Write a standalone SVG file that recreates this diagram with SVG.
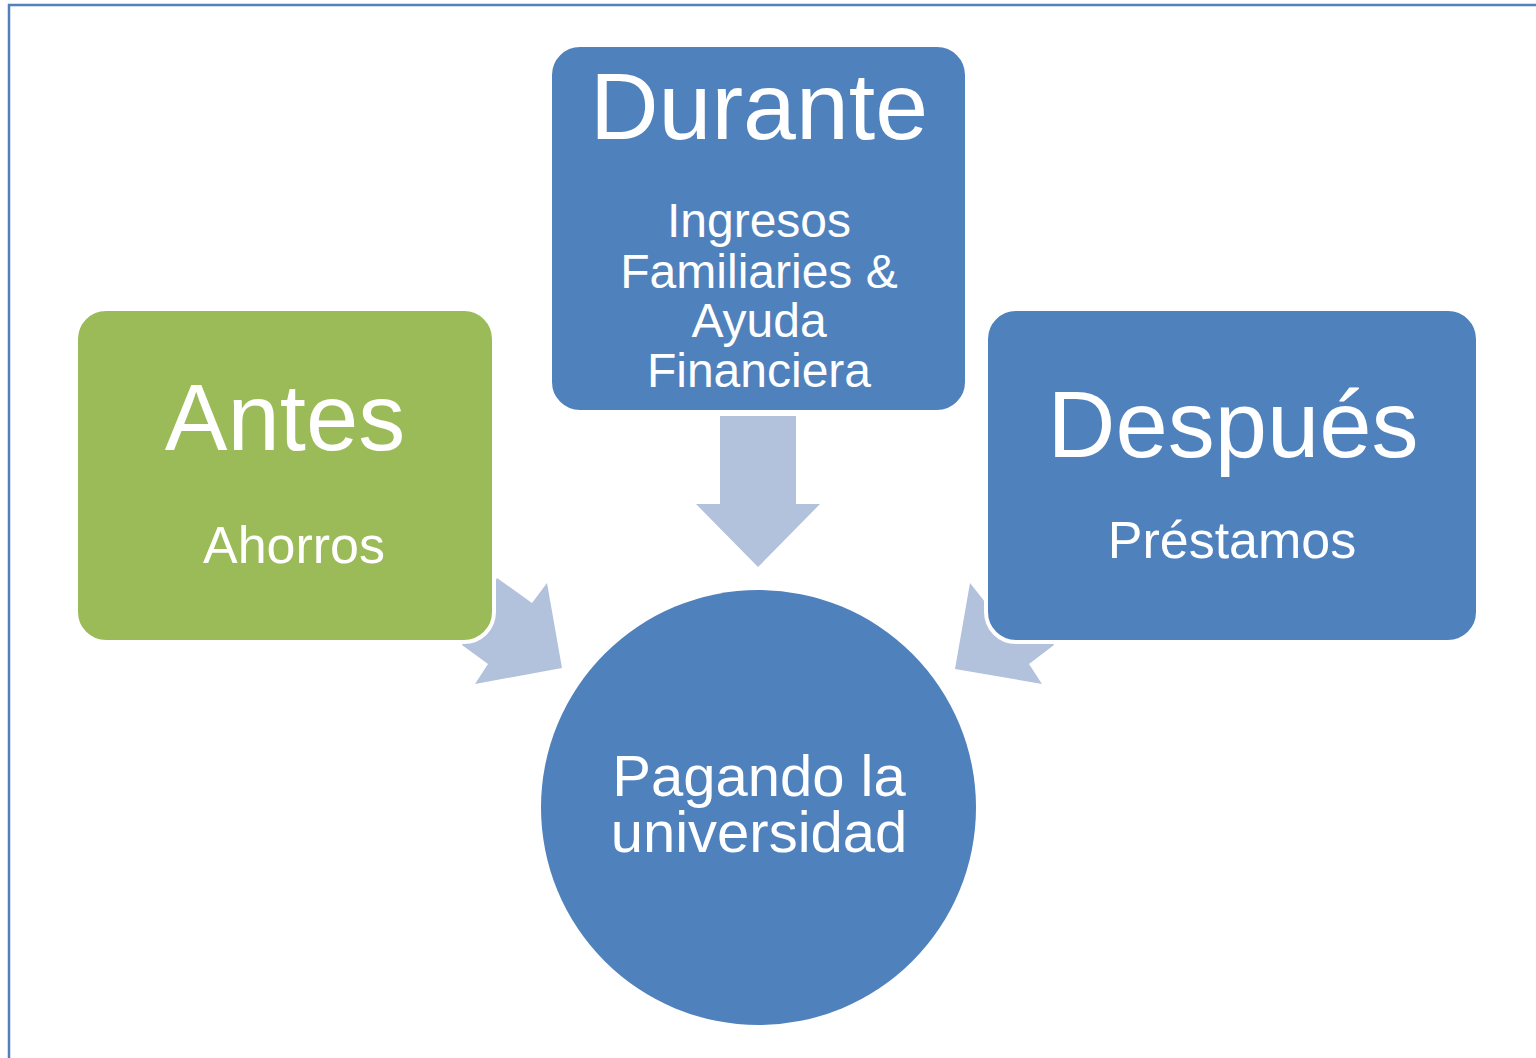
<svg xmlns="http://www.w3.org/2000/svg" width="1536" height="1058" viewBox="0 0 1536 1058">
<style>
.box{stroke:#ffffff;stroke-width:4}
.green{fill:#9BBB59}
.blue{fill:#4F81BD}
.arrow{fill:#B2C1DC}
text{font-family:"Liberation Sans",Arial,sans-serif;fill:#ffffff;text-anchor:middle}
.big{font-size:94px}
.mid{font-size:52px}
.sm{font-size:48px}
.c{font-size:58px}
</style>
<rect x="0" y="0" width="1536" height="1058" fill="#ffffff"/>
<path d="M9,1058 V5 H1536" fill="none" stroke="#4F81BD" stroke-width="2.5"/>
<g id="connectors">
<polygon class="arrow" points="720,416 796,416 796,504 820,504 758,567 696,504 720,504"/>
<polygon class="arrow" points="497,578 532,603 547,583 562,668 475,684 488,664 462,645"/>
<polygon class="arrow" points="1020,578 985,602 970,583 955,669 1042,684 1029,664 1054,645"/>
</g>
<g id="node-antes">
<rect class="box green" x="76" y="309" width="418" height="333" rx="30"/>
<text class="big" x="285" y="450">Antes</text>
<text class="mid" x="294" y="563">Ahorros</text>
</g>
<g id="node-durante">
<rect class="box blue" x="550" y="45" width="417" height="367" rx="30"/>
<text class="big" x="759" y="139" style="font-size:95px">Durante</text>
<text class="sm" x="759" y="237">Ingresos</text>
<text class="sm" x="759" y="288">Familiaries &amp;</text>
<text class="sm" x="759" y="337">Ayuda</text>
<text class="sm" x="759" y="387">Financiera</text>
</g>
<g id="node-despues">
<rect class="box blue" x="986" y="309" width="492" height="333" rx="30"/>
<text class="big" x="1233" y="457">Después</text>
<text class="mid" x="1232" y="558">Préstamos</text>
</g>
<g id="node-pagando">
<circle class="blue" cx="758.5" cy="807.5" r="217.5"/>
<text class="c" x="759" y="796">Pagando la</text>
<text class="c" x="759" y="852">universidad</text>
</g>
</svg>
